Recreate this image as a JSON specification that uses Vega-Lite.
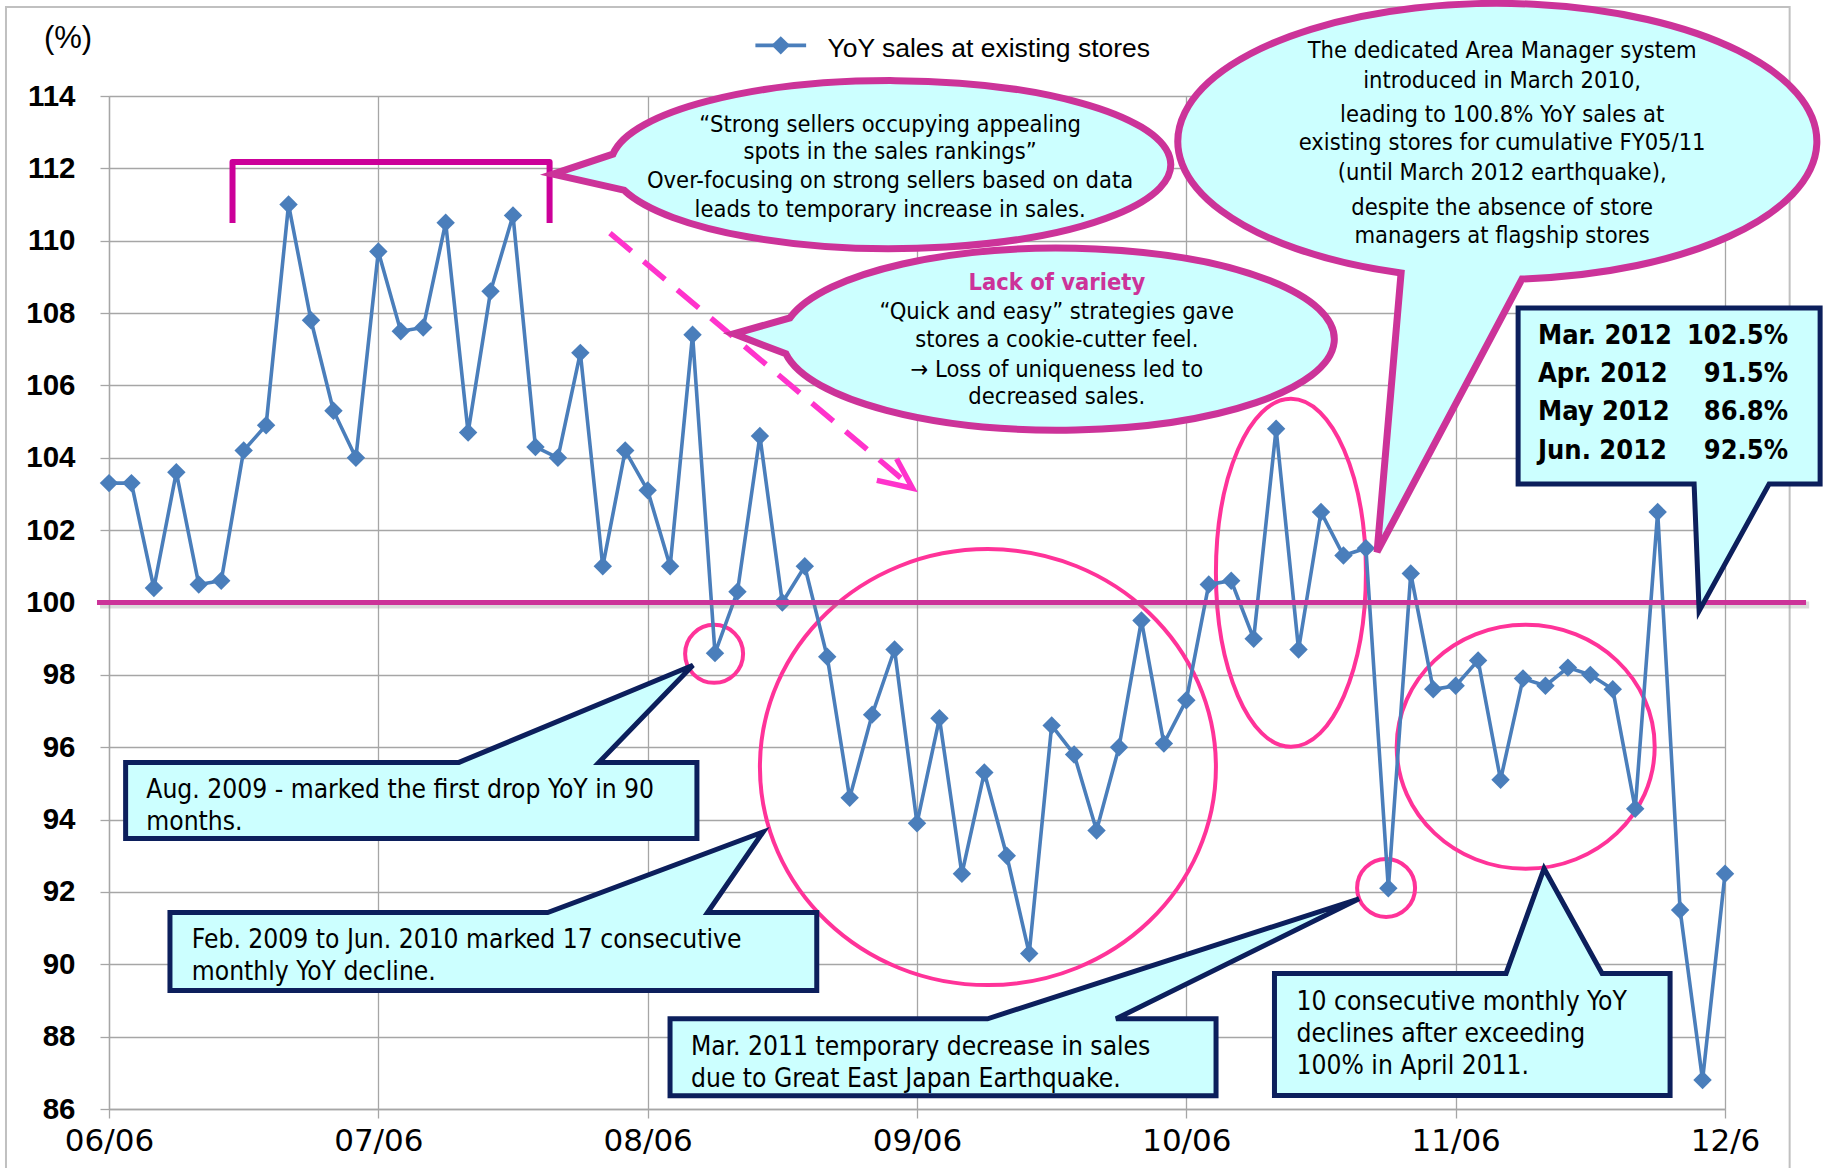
{
  "$schema": "https://vega.github.io/schema/vega-lite/v6.json",
  "width": 1616,
  "height": 1013,
  "autosize": {"type": "none"},
  "padding": {"left": 109, "top": 96, "right": 106, "bottom": 59},
  "background": "white",
  "config": {"view": {"stroke": null}},
  "datasets": {
    "sales": [
      {"month":"2006-06","m":0,"v":103.3},{"month":"2006-07","m":1,"v":103.3},{"month":"2006-08","m":2,"v":100.4},{"month":"2006-09","m":3,"v":103.6},{"month":"2006-10","m":4,"v":100.5},{"month":"2006-11","m":5,"v":100.6},{"month":"2006-12","m":6,"v":104.2},{"month":"2007-01","m":7,"v":104.9},{"month":"2007-02","m":8,"v":111.0},{"month":"2007-03","m":9,"v":107.8},{"month":"2007-04","m":10,"v":105.3},{"month":"2007-05","m":11,"v":104.0},
      {"month":"2007-06","m":12,"v":109.7},{"month":"2007-07","m":13,"v":107.5},{"month":"2007-08","m":14,"v":107.6},{"month":"2007-09","m":15,"v":110.5},{"month":"2007-10","m":16,"v":104.7},{"month":"2007-11","m":17,"v":108.6},{"month":"2007-12","m":18,"v":110.7},{"month":"2008-01","m":19,"v":104.3},{"month":"2008-02","m":20,"v":104.0},{"month":"2008-03","m":21,"v":106.9},{"month":"2008-04","m":22,"v":101.0},{"month":"2008-05","m":23,"v":104.2},
      {"month":"2008-06","m":24,"v":103.1},{"month":"2008-07","m":25,"v":101.0},{"month":"2008-08","m":26,"v":107.4},{"month":"2008-09","m":27,"v":98.6},{"month":"2008-10","m":28,"v":100.3},{"month":"2008-11","m":29,"v":104.6},{"month":"2008-12","m":30,"v":100.0},{"month":"2009-01","m":31,"v":101.0},{"month":"2009-02","m":32,"v":98.5},{"month":"2009-03","m":33,"v":94.6},{"month":"2009-04","m":34,"v":96.9},{"month":"2009-05","m":35,"v":98.7},
      {"month":"2009-06","m":36,"v":93.9},{"month":"2009-07","m":37,"v":96.8},{"month":"2009-08","m":38,"v":92.5},{"month":"2009-09","m":39,"v":95.3},{"month":"2009-10","m":40,"v":93.0},{"month":"2009-11","m":41,"v":90.3},{"month":"2009-12","m":42,"v":96.6},{"month":"2010-01","m":43,"v":95.8},{"month":"2010-02","m":44,"v":93.7},{"month":"2010-03","m":45,"v":96.0},{"month":"2010-04","m":46,"v":99.5},{"month":"2010-05","m":47,"v":96.1},
      {"month":"2010-06","m":48,"v":97.3},{"month":"2010-07","m":49,"v":100.5},{"month":"2010-08","m":50,"v":100.6},{"month":"2010-09","m":51,"v":99.0},{"month":"2010-10","m":52,"v":104.8},{"month":"2010-11","m":53,"v":98.7},{"month":"2010-12","m":54,"v":102.5},{"month":"2011-01","m":55,"v":101.3},{"month":"2011-02","m":56,"v":101.5},{"month":"2011-03","m":57,"v":92.1},{"month":"2011-04","m":58,"v":100.8},{"month":"2011-05","m":59,"v":97.6},
      {"month":"2011-06","m":60,"v":97.7},{"month":"2011-07","m":61,"v":98.4},{"month":"2011-08","m":62,"v":95.1},{"month":"2011-09","m":63,"v":97.9},{"month":"2011-10","m":64,"v":97.7},{"month":"2011-11","m":65,"v":98.2},{"month":"2011-12","m":66,"v":98.0},{"month":"2012-01","m":67,"v":97.6},{"month":"2012-02","m":68,"v":94.3},{"month":"2012-03","m":69,"v":102.5},{"month":"2012-04","m":70,"v":91.5},{"month":"2012-05","m":71,"v":86.8},
      {"month":"2012-06","m":72,"v":92.5}
    ]
  },
  "encoding": {
    "x": {
      "field": "m", "type": "quantitative",
      "scale": {"domain": [0, 72], "nice": false, "zero": false},
      "axis": {
        "values": [0, 12, 24, 36, 48, 60, 72],
        "labelExpr": "['06/06','07/06','08/06','09/06','10/06','11/06','12/6'][round(datum.value/12)]",
        "title": null, "grid": true, "gridColor": "#a6a6a6", "gridWidth": 1.3,
        "domainColor": "#a6a6a6", "domainWidth": 1.3, "tickColor": "#a6a6a6", "tickWidth": 1.3, "tickSize": 9,
        "labelFont": "DejaVu Sans", "labelFontWeight": "normal", "labelFontSize": 31, "labelColor": "#000",
        "labelPadding": 8, "labelFlush": false, "labelOverlap": false, "labelBound": false
      }
    },
    "y": {
      "field": "v", "type": "quantitative",
      "scale": {"domain": [86, 114], "nice": false, "zero": false},
      "axis": {
        "values": [86, 88, 90, 92, 94, 96, 98, 100, 102, 104, 106, 108, 110, 112, 114],
        "title": "(%)", "titleAngle": 0, "titleX": -41.5, "titleY": -58, "titleAlign": "center", "titleBaseline": "middle",
        "titleFont": "Liberation Sans", "titleFontSize": 31, "titleFontWeight": "normal", "titleColor": "#000",
        "grid": true, "gridColor": "#a6a6a6", "gridWidth": 1.3,
        "domainColor": "#a6a6a6", "domainWidth": 1.3, "tickColor": "#a6a6a6", "tickWidth": 1.3, "tickSize": 9,
        "labelFont": "Liberation Sans", "labelFontWeight": "bold", "labelFontSize": 29.5, "labelColor": "#000",
        "labelPadding": 25, "labelOverlap": false, "labelBound": false
      }
    }
  },
  "layer": [
    {
      "data": {"values": [{"m": -4.59, "m2": 74.88, "v": 116.46, "v2": 84.0}]},
      "mark": {"type": "rect", "fill": "transparent", "stroke": "#c0c0c0", "strokeWidth": 2},
      "encoding": {"x2": {"field": "m2"}, "y2": {"field": "v2"}}
    },
    {
      "data": {"values": [{"m": 26.96, "v": 98.58}, {"m": 56.9, "v": 92.11}]},
      "mark": {"type": "point", "shape": "circle", "size": 3364, "filled": false, "stroke": "#ff3399", "strokeWidth": 4, "opacity": 1}
    },
    {
      "data": {"values": [{"m": 39.16, "v": 95.45}]},
      "mark": {"type": "point", "shape": "M -2.28 0 A 2.28 2.18 0 1 1 2.28 0 A 2.28 2.18 0 1 1 -2.28 0 Z", "size": 40000, "filled": false, "stroke": "#ff3399", "strokeWidth": 4, "opacity": 1}
    },
    {
      "data": {"values": [{"m": 52.66, "v": 100.82}]},
      "mark": {"type": "point", "shape": "M -0.75 0 A 0.75 1.74 0 1 1 0.75 0 A 0.75 1.74 0 1 1 -0.75 0 Z", "size": 40000, "filled": false, "stroke": "#ff3399", "strokeWidth": 4, "opacity": 1}
    },
    {
      "data": {"values": [{"m": 63.12, "v": 96.01}]},
      "mark": {"type": "point", "shape": "M -1.29 0 A 1.29 1.22 0 1 1 1.29 0 A 1.29 1.22 0 1 1 -1.29 0 Z", "size": 40000, "filled": false, "stroke": "#ff3399", "strokeWidth": 4, "opacity": 1}
    },
    {
      "data": {"name": "sales"},
      "mark": {"type": "line", "color": "#4a7ebb", "strokeWidth": 3.6},
      "encoding": {"order": {"field": "m"}}
    },
    {
      "data": {"name": "sales"},
      "mark": {"type": "point", "shape": "diamond", "filled": true, "size": 340, "color": "#4a7ebb", "opacity": 1}
    },
    {
      "data": {"values": [{"m": -0.4, "m2": 75.75, "v": 99.93}]},
      "mark": {"type": "rule", "color": "#888888", "opacity": 0.3, "strokeWidth": 7},
      "encoding": {"x2": {"field": "m2"}}
    },
    {
      "data": {"values": [{"m": -0.535, "m2": 75.61, "v": 100}]},
      "mark": {"type": "rule", "color": "#cc3399", "strokeWidth": 5},
      "encoding": {"x2": {"field": "m2"}}
    },
    {
      "data": {"values": [{"k": 0, "m": 5.503, "v": 110.49}, {"k": 1, "m": 5.503, "v": 112.176}, {"k": 2, "m": 19.63, "v": 112.176}, {"k": 3, "m": 19.63, "v": 110.49}]},
      "mark": {"type": "line", "color": "#cc0099", "strokeWidth": 6, "strokeJoin": "round", "strokeCap": "butt"},
      "encoding": {"order": {"field": "k"}}
    },
    {
      "data": {"values": [{"m": 22.32, "v": 110.21, "m2": 35.5, "v2": 103.33}]},
      "mark": {"type": "rule", "color": "#ff33cc", "strokeWidth": 5.5, "strokeDash": [28, 16]},
      "encoding": {"x2": {"field": "m2"}, "y2": {"field": "v2"}}
    },
    {
      "data": {"values": [{"k": 0, "m": 34.21, "v": 103.375}, {"k": 1, "m": 35.8, "v": 103.157}, {"k": 2, "m": 35.09, "v": 103.975}]},
      "mark": {"type": "line", "color": "#ff33cc", "strokeWidth": 5.5, "strokeJoin": "miter"},
      "encoding": {"order": {"field": "k"}}
    },
    {
      "data": {"values": [{"m": 62.09, "v": 112.73}]},
      "mark": {"type": "point", "shape": "M 0.195 1.37 A 3.195 1.38 0 1 0 -1.015 1.31 L -1.255 4.1 Z", "size": 40000, "filled": true, "fill": "#ccffff", "stroke": "#cc3399", "strokeWidth": 7, "opacity": 1}
    },
    {
      "data": {"values": [{"m": 42.28, "v": 107.26}]},
      "mark": {"type": "point", "shape": "M -2.68 -0.22 A 2.76 0.91 0 1 1 -2.72 0.14 L -3.24 -0.06 Z", "size": 40000, "filled": true, "fill": "#ccffff", "stroke": "#cc3399", "strokeWidth": 7, "opacity": 1}
    },
    {
      "data": {"values": [{"m": 34.84, "v": 112.09}]},
      "mark": {"type": "point", "shape": "M -2.78 -0.11 A 2.8 0.84 0 1 1 -2.67 0.25 L -3.38 0.09 Z", "size": 40000, "filled": true, "fill": "#ccffff", "stroke": "#cc3399", "strokeWidth": 7, "opacity": 1}
    },
    {
      "data": {"values": [
        {"m": 34.8, "v": 113.21, "t": "“Strong sellers occupying appealing"},
        {"m": 34.8, "v": 112.447, "t": "spots in the sales rankings”"},
        {"m": 34.8, "v": 111.659, "t": "Over-focusing on strong sellers based on data"},
        {"m": 34.8, "v": 110.86, "t": "leads to temporary increase in sales."},
        {"m": 42.23, "v": 108.019, "t": "“Quick and easy” strategies gave"},
        {"m": 42.23, "v": 107.256, "t": "stores a cookie-cutter feel."},
        {"m": 42.23, "v": 106.435, "t": "→ Loss of uniqueness led to"},
        {"m": 42.23, "v": 105.67, "t": "decreased sales."},
        {"m": 62.07, "v": 115.233, "t": "The dedicated Area Manager system"},
        {"m": 62.07, "v": 114.412, "t": "introduced in March 2010,"},
        {"m": 62.07, "v": 113.483, "t": "leading to 100.8% YoY sales at"},
        {"m": 62.07, "v": 112.698, "t": "existing stores for cumulative FY05/11"},
        {"m": 62.07, "v": 111.866, "t": "(until March 2012 earthquake),"},
        {"m": 62.07, "v": 110.915, "t": "despite the absence of store"},
        {"m": 62.07, "v": 110.117, "t": "managers at flagship stores"}
      ]},
      "mark": {"type": "text", "align": "center", "baseline": "middle", "font": "DejaVu Sans Condensed, DejaVu Sans", "fontSize": 23.5, "color": "#000"},
      "encoding": {"text": {"field": "t"}}
    },
    {
      "data": {"values": [{"m": 42.23, "v": 108.84, "t": "Lack of variety"}]},
      "mark": {"type": "text", "align": "center", "baseline": "middle", "font": "DejaVu Sans Condensed, DejaVu Sans", "fontSize": 23.5, "fontWeight": "bold", "color": "#cc3399"},
      "encoding": {"text": {"field": "t"}}
    },
    {
      "data": {"values": [{"m": 13.47, "v": 94.53}]},
      "mark": {"type": "point", "shape": "M -2.857 -0.38 L 0.476 -0.38 L 2.816 -1.351 L 1.876 -0.38 L 2.856 -0.38 L 2.856 0.381 L -2.857 0.381 Z", "size": 40000, "filled": true, "fill": "#ccffff", "stroke": "#0c1f5c", "strokeWidth": 5, "strokeJoin": "miter", "opacity": 1}
    },
    {
      "data": {"values": [{"m": 17.125, "v": 90.35}]},
      "mark": {"type": "point", "shape": "M -3.234 -0.39 L 0.543 -0.39 L 2.697 -1.196 L 2.142 -0.39 L 3.234 -0.39 L 3.234 0.39 L -3.234 0.39 Z", "size": 40000, "filled": true, "fill": "#ccffff", "stroke": "#0c1f5c", "strokeWidth": 5, "strokeJoin": "miter", "opacity": 1}
    },
    {
      "data": {"values": [{"m": 37.16, "v": 87.43}]},
      "mark": {"type": "point", "shape": "M -2.73 -0.385 L 0.445 -0.385 L 4.16 -1.585 L 1.73 -0.385 L 2.73 -0.385 L 2.73 0.385 L -2.73 0.385 Z", "size": 40000, "filled": true, "fill": "#ccffff", "stroke": "#0c1f5c", "strokeWidth": 5, "strokeJoin": "miter", "opacity": 1}
    },
    {
      "data": {"values": [{"m": 60.74, "v": 88.06}]},
      "mark": {"type": "point", "shape": "M -1.978 -0.61 L 0.338 -0.61 L 0.718 -1.66 L 1.298 -0.61 L 1.978 -0.61 L 1.978 0.61 L -1.978 0.61 Z", "size": 40000, "filled": true, "fill": "#ccffff", "stroke": "#0c1f5c", "strokeWidth": 5, "strokeJoin": "miter", "opacity": 1}
    },
    {
      "data": {"values": [{"m": 69.51, "v": 105.71}]},
      "mark": {"type": "point", "shape": "M -1.51 -0.88 L 1.51 -0.88 L 1.51 0.88 L 1.0 0.88 L 0.3 2.15 L 0.25 0.88 L -1.51 0.88 Z", "size": 40000, "filled": true, "fill": "#ccffff", "stroke": "#0c1f5c", "strokeWidth": 5, "strokeJoin": "miter", "opacity": 1}
    },
    {
      "data": {"values": [
        {"m": 1.662, "v": 94.818, "t": "Aug. 2009 - marked the first drop YoY in 90"},
        {"m": 1.662, "v": 93.939, "t": "months."},
        {"m": 3.689, "v": 90.672, "t": "Feb. 2009 to Jun. 2010 marked 17 consecutive"},
        {"m": 3.689, "v": 89.793, "t": "monthly YoY decline."},
        {"m": 25.93, "v": 87.72, "t": "Mar. 2011 temporary decrease in sales"},
        {"m": 25.93, "v": 86.84, "t": "due to Great East Japan Earthquake."},
        {"m": 52.91, "v": 88.964, "t": "10 consecutive monthly YoY"},
        {"m": 52.91, "v": 88.063, "t": "declines after exceeding"},
        {"m": 52.91, "v": 87.181, "t": "100% in April 2011."}
      ]},
      "mark": {"type": "text", "align": "left", "baseline": "middle", "font": "DejaVu Sans Condensed, DejaVu Sans", "fontSize": 26.2, "color": "#000"},
      "encoding": {"text": {"field": "t"}}
    },
    {
      "data": {"values": [
        {"m": 63.67, "v": 107.367, "t": "Mar. 2012"},
        {"m": 63.67, "v": 106.316, "t": "Apr. 2012"},
        {"m": 63.67, "v": 105.266, "t": "May 2012"},
        {"m": 63.67, "v": 104.188, "t": "Jun. 2012"}
      ]},
      "mark": {"type": "text", "align": "left", "baseline": "middle", "font": "DejaVu Sans Condensed, DejaVu Sans", "fontSize": 27, "fontWeight": "bold", "color": "#000"},
      "encoding": {"text": {"field": "t"}}
    },
    {
      "data": {"values": [
        {"m": 74.81, "v": 107.367, "t": "102.5%"},
        {"m": 74.81, "v": 106.316, "t": "91.5%"},
        {"m": 74.81, "v": 105.266, "t": "86.8%"},
        {"m": 74.81, "v": 104.188, "t": "92.5%"}
      ]},
      "mark": {"type": "text", "align": "right", "baseline": "middle", "font": "DejaVu Sans Condensed, DejaVu Sans", "fontSize": 27, "fontWeight": "bold", "color": "#000"},
      "encoding": {"text": {"field": "t"}}
    },
    {
      "data": {"values": [{"m": 28.8, "m2": 31.06, "v": 115.4}]},
      "mark": {"type": "rule", "color": "#4a7ebb", "strokeWidth": 3.6},
      "encoding": {"x2": {"field": "m2"}}
    },
    {
      "data": {"values": [{"m": 29.93, "v": 115.4}]},
      "mark": {"type": "point", "shape": "diamond", "filled": true, "size": 340, "color": "#4a7ebb", "opacity": 1}
    },
    {
      "data": {"values": [{"m": 32.01, "v": 115.3, "t": "YoY sales at existing stores"}]},
      "mark": {"type": "text", "align": "left", "baseline": "middle", "font": "Liberation Sans", "fontSize": 26.5, "color": "#000"},
      "encoding": {"text": {"field": "t"}}
    }
  ]
}
